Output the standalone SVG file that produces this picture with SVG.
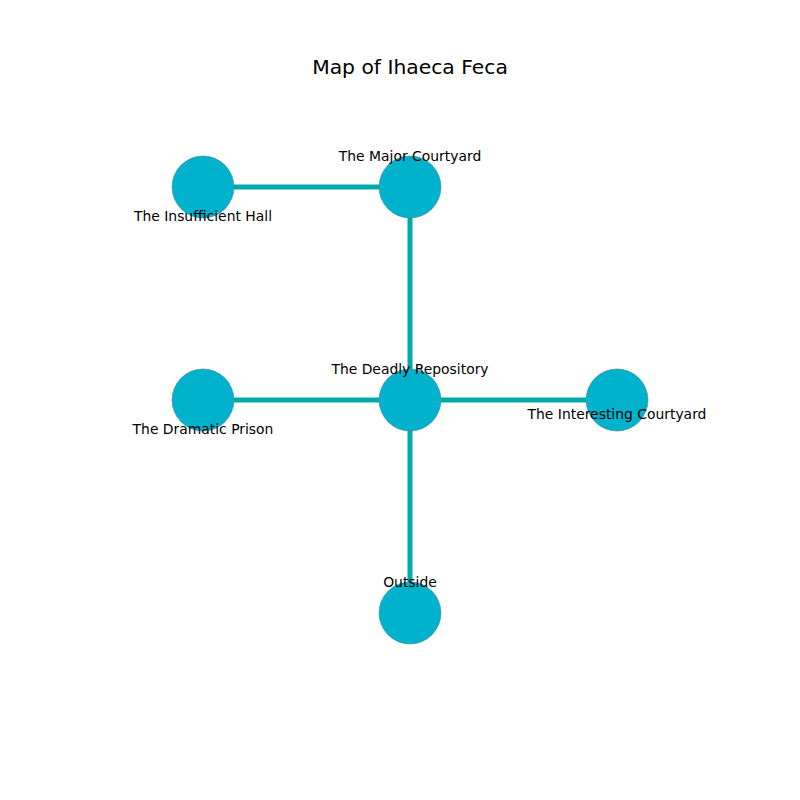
<svg xmlns="http://www.w3.org/2000/svg" width="800" height="800" viewBox="0 0 800 800">
<style>
.edge{stroke:#00aaaa;stroke-width:5;fill:none}
.node circle{fill:#00b2cc;stroke:#4a8a96;stroke-width:0.6}
.lbl{font-family:"DejaVu Sans",sans-serif;font-size:13.9px;fill:#000;text-anchor:middle;dominant-baseline:central}
.title{font-family:"DejaVu Sans",sans-serif;font-size:20.3px;fill:#000;text-anchor:middle;dominant-baseline:central}
</style>
<rect width="800" height="800" fill="#fff"/>
<text class="title" x="410" y="67">Map of Ihaeca Feca</text>
<g id="edges">
<line class="edge" x1="203" y1="187" x2="410" y2="187"/>
<line class="edge" x1="410" y1="187" x2="410" y2="400"/>
<line class="edge" x1="203" y1="400" x2="410" y2="400"/>
<line class="edge" x1="410" y1="400" x2="617" y2="400"/>
<line class="edge" x1="410" y1="400" x2="410" y2="613"/>
</g>
<g id="n-insufficient" class="node"><circle cx="203" cy="187" r="31"/></g>
<g id="n-major" class="node"><circle cx="410" cy="187" r="31"/></g>
<g id="n-dramatic" class="node"><circle cx="203" cy="400" r="31"/></g>
<g id="n-deadly" class="node"><circle cx="410" cy="400" r="31"/></g>
<g id="n-interesting" class="node"><circle cx="617" cy="400" r="31"/></g>
<g id="n-outside" class="node"><circle cx="410" cy="613" r="31"/></g>
<g id="labels">
<text class="lbl" x="203" y="216">The Insufficient Hall</text>
<text class="lbl" x="410" y="156">The Major Courtyard</text>
<text class="lbl" x="203" y="429">The Dramatic Prison</text>
<text class="lbl" x="410" y="369">The Deadly Repository</text>
<text class="lbl" x="617" y="414">The Interesting Courtyard</text>
<text class="lbl" x="410" y="582">Outside</text>
</g>
</svg>
